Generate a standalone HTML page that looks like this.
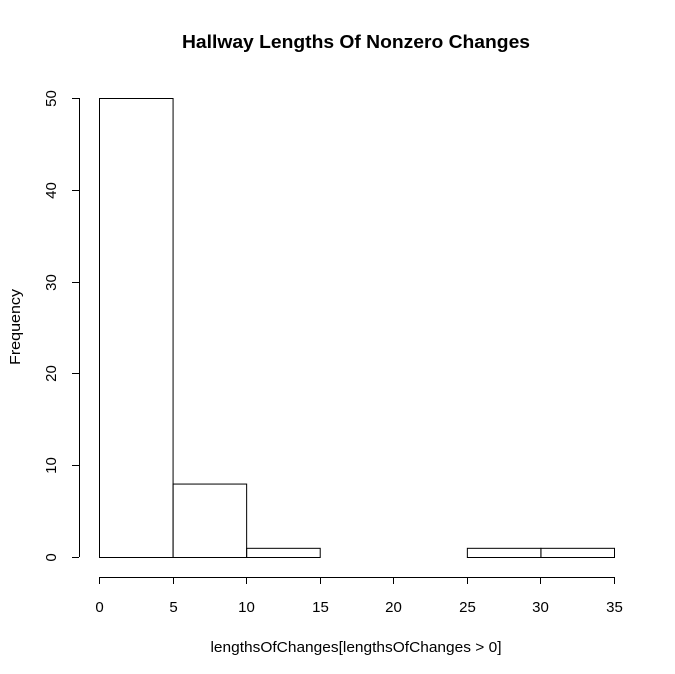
<!DOCTYPE html>
<html><head><meta charset="utf-8"><style>
html,body{margin:0;padding:0;background:#fff;}
svg{display:block;font-family:"Liberation Sans",Arial,sans-serif;}
</style></head><body>
<svg id="chart" width="675" height="674" viewBox="0 0 675 674">
<text x="356" y="48" text-anchor="middle" font-size="18" font-weight="bold" fill="#000" textLength="348" lengthAdjust="spacingAndGlyphs">Hallway Lengths Of Nonzero Changes</text>
<text x="356" y="652" text-anchor="middle" font-size="15" fill="#000" textLength="291" lengthAdjust="spacingAndGlyphs">lengthsOfChanges[lengthsOfChanges &gt; 0]</text>
<text transform="translate(20,327) rotate(-90)" text-anchor="middle" font-size="15" fill="#000" textLength="76" lengthAdjust="spacingAndGlyphs">Frequency</text>
<g id="bars"></g><g id="xaxis"></g><g id="yaxis"></g>
</svg>
<script>
const binEdges = [0,5,10,15,20,25,30,35];
const counts = [50,8,1,0,0,1,1];
const xTicks = [0,5,10,15,20,25,30,35];
const yTicks = [0,10,20,30,40,50];
const NS="http://www.w3.org/2000/svg";
function xs(v){return 99+(v-0)*(614-99)/35;}
function ys(v){return 557-v*(557-98)/50;}
function mk(tag,attrs,parent){const e=document.createElementNS(NS,tag);for(const k in attrs)e.setAttribute(k,attrs[k]);parent.appendChild(e);return e;}
const bars=document.getElementById('bars');
counts.forEach((c,i)=>{
  const x0=xs(binEdges[i]),x1=xs(binEdges[i+1]);
  const r=mk('rect',{x:x0+0.5,y:ys(c)+0.5,width:x1-x0,height:ys(0)-ys(c),fill:'none',stroke:'#000','stroke-width':1},bars);
  
  
});
const xa=document.getElementById('xaxis');
const xl=mk('line',{x1:xs(xTicks[0]),x2:xs(xTicks[xTicks.length-1]),y1:577.5,y2:577.5,stroke:'#000'},xa);


xTicks.forEach(t=>{
  const x=Math.round(xs(t))+0.5;
  mk('line',{x1:x,x2:x,y1:577,y2:584,stroke:'#000'},xa);
  const tx=mk('text',{x:x,y:612,'text-anchor':'middle','font-size':15,fill:'#000'},xa);
  tx.textContent=t;
  
  
});
const ya=document.getElementById('yaxis');
const yl=mk('line',{x1:79.5,x2:79.5,y1:ys(yTicks[0]),y2:ys(yTicks[yTicks.length-1]),stroke:'#000'},ya);


yTicks.forEach(t=>{
  const y=Math.round(ys(t))+0.5;
  mk('line',{x1:72,x2:79,y1:y,y2:y,stroke:'#000'},ya);
  const tx=mk('text',{transform:`translate(56,${y}) rotate(-90)`,'text-anchor':'middle','font-size':15,fill:'#000'},ya);
  tx.textContent=t;
  
  
});
</script>
</body></html>
